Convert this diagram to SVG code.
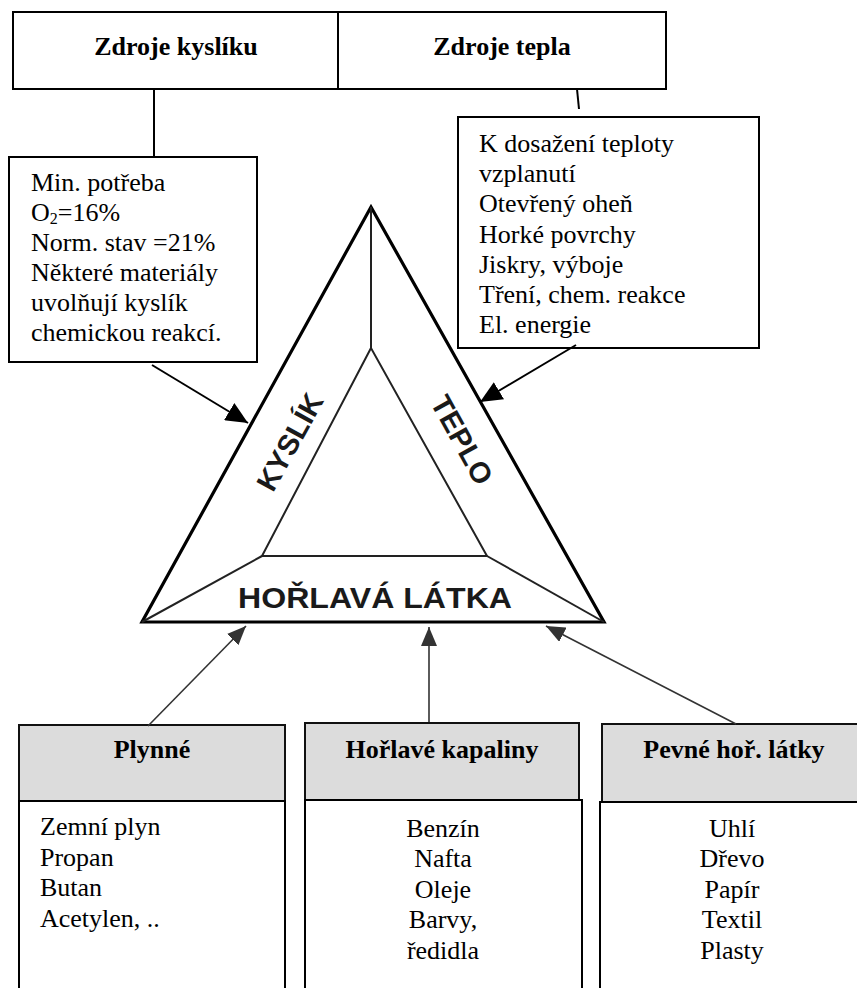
<svg xmlns="http://www.w3.org/2000/svg" width="857" height="988" viewBox="0 0 857 988">
<style>
.box{fill:#fff;stroke:#000;stroke-width:2}
.hdr{fill:#dcdcdc;stroke:#111;stroke-width:2}
.t{font-family:"Liberation Serif","Times New Roman",serif;font-size:26px;fill:#000}
.b{font-family:"Liberation Serif","Times New Roman",serif;font-size:26px;font-weight:bold;fill:#000}
.tri{font-family:"Liberation Sans",Arial,sans-serif;font-size:29px;font-weight:bold;fill:#1a1a1a}
.con{stroke:#000;stroke-width:2;fill:none}
.con2{stroke:#333;stroke-width:1.6;fill:none}
</style>
<defs>
<marker id="ahBig" markerWidth="22" markerHeight="20" refX="22" refY="10" orient="auto" markerUnits="userSpaceOnUse"><path d="M0,0 L22,10 L0,20 z" fill="#000"/></marker>
<marker id="ahSmall" markerWidth="19" markerHeight="16" refX="19" refY="8" orient="auto" markerUnits="userSpaceOnUse"><path d="M0,0 L19,8 L0,16 z" fill="#333"/></marker>
<clipPath id="clipR"><rect x="458" y="117" width="301" height="221"/></clipPath>
</defs>
<rect width="857" height="988" fill="#fff"/>

<g id="top-sources">
<rect class="box" x="13" y="12" width="653" height="77"/>
<line x1="338" y1="12" x2="338" y2="89" stroke="#000" stroke-width="2"/>
<text class="b" x="176" y="55" text-anchor="middle">Zdroje kyslíku</text>
<text class="b" x="502" y="55" text-anchor="middle">Zdroje tepla</text>
</g>

<g id="oxygen-box">
<rect class="box" x="9" y="157" width="248" height="205"/>
<text class="t" x="31" y="191">Min. potřeba</text>
<text class="t" x="31" y="221">O<tspan font-size="16" dy="3">2</tspan><tspan dy="-3">=16%</tspan></text>
<text class="t" x="31" y="251">Norm. stav =21%</text>
<text class="t" x="31" y="281">Některé materiály</text>
<text class="t" x="31" y="311">uvolňují kyslík</text>
<text class="t" x="31" y="341">chemickou reakcí.</text>
</g>

<g id="heat-box">
<rect class="box" x="458" y="117" width="301" height="231"/>
<g clip-path="url(#clipR)">
<text class="t" x="479" y="152">K dosažení teploty</text>
<text class="t" x="479" y="182">vzplanutí</text>
<text class="t" x="479" y="212">Otevřený oheň</text>
<text class="t" x="479" y="243">Horké povrchy</text>
<text class="t" x="479" y="273">Jiskry, výboje</text>
<text class="t" x="479" y="303">Tření, chem. reakce</text>
<text class="t" x="479" y="333">El. energie</text>
</g>
</g>

<g id="fire-triangle">
<polygon points="371,207 142,622 604,622" fill="#fff" stroke="#000" stroke-width="3.2" stroke-linejoin="miter"/>
<line x1="371" y1="207" x2="371" y2="348" stroke="#222" stroke-width="2"/>
<polygon points="371,348 262,556 487,556" fill="#fff" stroke="#222" stroke-width="2"/>
<line x1="262" y1="556" x2="142" y2="622" stroke="#222" stroke-width="2"/>
<line x1="487" y1="556" x2="604" y2="622" stroke="#222" stroke-width="2"/>
<text class="tri" transform="translate(290,442) rotate(-61)" text-anchor="middle" dominant-baseline="central">KYSLÍK</text>
<text class="tri" transform="translate(462,440) rotate(61)" text-anchor="middle" dominant-baseline="central">TEPLO</text>
<text class="tri" x="375" y="608" text-anchor="middle" textLength="274" lengthAdjust="spacingAndGlyphs">HOŘLAVÁ LÁTKA</text>
</g>

<g id="gases">
<rect class="hdr" x="19" y="725" width="266" height="76"/>
<rect class="box" x="19" y="801" width="266" height="200"/>
<text class="b" x="152" y="758" text-anchor="middle">Plynné</text>
<text class="t" x="40" y="835">Zemní plyn</text>
<text class="t" x="40" y="866">Propan</text>
<text class="t" x="40" y="896">Butan</text>
<text class="t" x="40" y="927">Acetylen, ..</text>
</g>

<g id="liquids">
<rect class="hdr" x="305" y="723" width="274" height="77"/>
<rect class="box" x="305" y="800" width="277" height="200"/>
<text class="b" x="442" y="758" text-anchor="middle">Hořlavé kapaliny</text>
<text class="t" x="443" y="837" text-anchor="middle">Benzín</text>
<text class="t" x="443" y="867" text-anchor="middle">Nafta</text>
<text class="t" x="443" y="898" text-anchor="middle">Oleje</text>
<text class="t" x="443" y="928" text-anchor="middle">Barvy,</text>
<text class="t" x="443" y="959" text-anchor="middle">ředidla</text>
</g>

<g id="solids">
<rect class="hdr" x="602" y="724" width="265" height="78"/>
<rect class="box" x="600" y="802" width="270" height="200"/>
<text class="b" x="734" y="758" text-anchor="middle">Pevné hoř. látky</text>
<text class="t" x="732" y="837" text-anchor="middle">Uhlí</text>
<text class="t" x="732" y="867" text-anchor="middle">Dřevo</text>
<text class="t" x="732" y="898" text-anchor="middle">Papír</text>
<text class="t" x="732" y="928" text-anchor="middle">Textil</text>
<text class="t" x="732" y="959" text-anchor="middle">Plasty</text>
</g>

<g id="connectors">
<line class="con" x1="154" y1="89" x2="154" y2="157"/>
<line class="con" x1="577" y1="89" x2="579" y2="109"/>
<line class="con" x1="152" y1="365" x2="248" y2="423" marker-end="url(#ahBig)"/>
<line class="con" x1="576" y1="345" x2="480" y2="402" marker-end="url(#ahBig)"/>
<line class="con2" x1="148" y1="726" x2="246" y2="626" marker-end="url(#ahSmall)"/>
<line class="con2" x1="429" y1="722" x2="429" y2="627" marker-end="url(#ahSmall)"/>
<line class="con2" x1="736" y1="724" x2="546" y2="626" marker-end="url(#ahSmall)"/>
</g>
</svg>
